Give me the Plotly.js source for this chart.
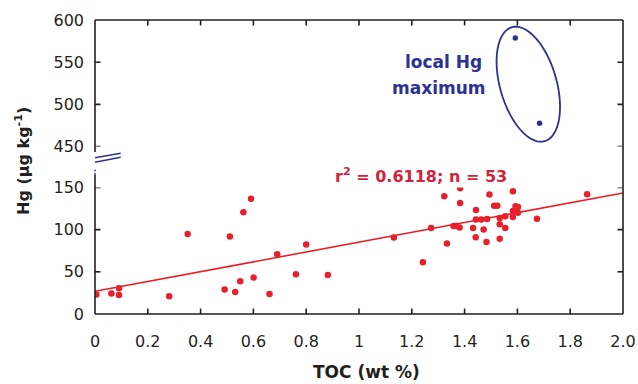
<!DOCTYPE html>
<html>
<head>
<meta charset="utf-8">
<script src="https://cdn.plot.ly/plotly-3.0.1.min.js"></script>
<style>html,body{margin:0;padding:0;background:#fff;}#chart{width:638px;height:384px;}</style>
</head>
<body>
<div id="chart"></div>
<script>
// ---- data ----
const tocLow = [0.005,0.062,0.091,0.091,0.281,0.351,0.491,0.511,0.531,0.550,0.562,0.591,0.601,0.661,0.690,0.761,0.800,
  0.882,1.132,1.242,1.273,1.323,1.333,1.358,1.367,1.381,1.383,1.383,1.432,1.443,1.443,1.442,1.463,1.472,1.485,1.483,
  1.494,1.512,1.524,1.533,1.533,1.533,1.554,1.554,1.583,1.583,1.583,1.593,1.602,1.602,1.674,1.864];
const hgLow = [23,24.2,30.4,22.5,21,94.8,28.9,91.7,26.1,38.7,120.5,136.7,43.1,23.7,70.7,47,82.2,
  46.2,90.5,61.3,101.9,139.5,83.4,104.3,104.3,102.4,148.9,131.5,101.9,123.2,112,90.9,112,100,112.5,85.3,
  141.5,128.4,128.4,113.7,106.3,89.3,115.8,101.9,145.4,122,114.9,127.6,126.8,120.1,113,141.8];
const tocMax = [1.592,1.684];
const hgMax = [578.7,477.6];
const fitIntercept = 26.9;
const fitSlope = 58.25;
const fitX = [0, 2.0];
const xTickVals = [0,0.2,0.4,0.6,0.8,1.0,1.2,1.4,1.6,1.8,2.0];
const xTickText = ["0","0.2","0.4","0.6","0.8","1","1.2","1.4","1.6","1.8","2.0"];
const yLowTicks = [0,50,100,150];
const yHighTicks = [450,500,550,600];

// ---- layout helpers (pixel -> paper) ----
const W = 638, H = 384, ML = 95, MR = 15, MT = 20, MB = 70;
const PW = W - ML - MR, PH = H - MT - MB;
const X = px => (px - ML) / PW;
const Y = py => (H - MB - py) / PH;

const ink = '#231f20', red = '#e8202c', navy = '#2e3192';
const tickFont = {family: 'DejaVu Sans', size: 16, color: ink};
const fitY = fitX.map(x => fitIntercept + fitSlope * x);

const traces = [
  {x: fitX, y: fitY, xaxis: 'x', yaxis: 'y', mode: 'lines', line: {color: '#ed1c24', width: 1.6}, hoverinfo: 'skip'},
  {x: tocLow, y: hgLow, xaxis: 'x', yaxis: 'y', mode: 'markers', marker: {color: red, size: 6.5}},
  {x: tocMax, y: hgMax, xaxis: 'x2', yaxis: 'y2', mode: 'markers', marker: {color: navy, size: 5.5}}
];

// ellipse around the local maximum (pixel geometry)
const ec = [528.3, 84.2], ea = 59.3, eb = 28.3, th = 16 * Math.PI / 180;
const u = [Math.sin(th), Math.cos(th)], v = [Math.cos(th), -Math.sin(th)];
let path = '';
for (let i = 0; i <= 72; i++) {
  const t = i / 72 * 2 * Math.PI;
  const px = ec[0] + ea * Math.cos(t) * u[0] + eb * Math.sin(t) * v[0];
  const py = ec[1] + ea * Math.cos(t) * u[1] + eb * Math.sin(t) * v[1];
  path += (i === 0 ? 'M' : 'L') + X(px).toFixed(5) + ',' + Y(py).toFixed(5);
}
path += 'Z';

const frame = {color: ink, width: 1.6};
const brk = {color: navy, width: 1.4};
const shapes = [
  {type: 'line', xref: 'paper', yref: 'paper', x0: 0, x1: 1, y0: 1, y1: 1, line: frame},
  {type: 'line', xref: 'paper', yref: 'paper', x0: 0, x1: 1, y0: 0, y1: 0, line: frame},
  {type: 'line', xref: 'paper', yref: 'paper', x0: 1, x1: 1, y0: 0, y1: 1, line: frame},
  {type: 'line', xref: 'paper', yref: 'paper', x0: 0, x1: 0, y0: 1, y1: Y(152), line: frame},
  {type: 'line', xref: 'paper', yref: 'paper', x0: 0, x1: 0, y0: 0, y1: Y(175), line: frame},
  {type: 'line', xref: 'paper', yref: 'paper', x0: 0, x1: X(120.7), y0: Y(157.7), y1: Y(153.3), line: brk},
  {type: 'line', xref: 'paper', yref: 'paper', x0: 0, x1: X(120.7), y0: Y(162.3), y1: Y(157.3), line: brk},
  {type: 'line', xref: 'paper', yref: 'paper', x0: 0, x1: 0, y0: Y(169.5), y1: Y(171.5), line: {color: navy, width: 1.4}},
  {type: 'line', xref: 'paper', yref: 'paper', x0: 0, x1: 0, y0: Y(173), y1: Y(175), line: {color: navy, width: 1.4}},
  {type: 'path', xref: 'paper', yref: 'paper', path: path, line: {color: navy, width: 1.8}}
];

// inward tick marks on all four sides, placed through the axes' own scales
const TL = 5.5, tickLine = {color: ink, width: 1.6};
xTickVals.slice(1, -1).forEach(v => {
  shapes.push({type: 'line', xref: 'x', yref: 'paper', x0: v, x1: v, y0: 0, y1: TL / PH, line: tickLine});
  shapes.push({type: 'line', xref: 'x', yref: 'paper', x0: v, x1: v, y0: 1, y1: 1 - TL / PH, line: tickLine});
});
yLowTicks.slice(1).forEach(v => {
  shapes.push({type: 'line', xref: 'paper', yref: 'y', x0: 0, x1: TL / PW, y0: v, y1: v, line: tickLine});
  shapes.push({type: 'line', xref: 'paper', yref: 'y', x0: 1, x1: 1 - TL / PW, y0: v, y1: v, line: tickLine});
});
yHighTicks.slice(0, -1).forEach(v => {
  shapes.push({type: 'line', xref: 'paper', yref: 'y2', x0: 0, x1: TL / PW, y0: v, y1: v, line: tickLine});
  shapes.push({type: 'line', xref: 'paper', yref: 'y2', x0: 1, x1: 1 - TL / PW, y0: v, y1: v, line: tickLine});
});

const annotations = [
  {xref: 'paper', yref: 'paper', x: X(421), y: Y(175), xanchor: 'center', yanchor: 'middle', showarrow: false,
   text: '<b>r<sup>2</sup> = 0.6118; n = 53</b>', font: {family: 'DejaVu Sans', size: 16, color: '#d2233c'}},
  {xref: 'paper', yref: 'paper', x: X(443.5), y: Y(62), xanchor: 'center', yanchor: 'middle', showarrow: false,
   text: '<b>local Hg</b>', font: {family: 'DejaVu Sans', size: 17, color: navy}},
  {xref: 'paper', yref: 'paper', x: X(438.5), y: Y(88), xanchor: 'center', yanchor: 'middle', showarrow: false,
   text: '<b>maximum</b>', font: {family: 'DejaVu Sans', size: 17, color: navy}},
  {xref: 'paper', yref: 'paper', x: X(366), y: Y(372), xanchor: 'center', yanchor: 'middle', showarrow: false,
   text: '<b>TOC (wt %)</b>', font: {family: 'DejaVu Sans', size: 17, color: ink}},
  {xref: 'paper', yref: 'paper', x: X(22), y: Y(161), xanchor: 'center', yanchor: 'middle', showarrow: false, textangle: -90,
   text: '<b>Hg (µg kg<sup>-1</sup>)</b>', font: {family: 'DejaVu Sans', size: 16, color: ink}}
];

// y scale: 0.844 px per unit in both parts of the broken axis
const pxPerUnit = 0.844;
const lowRange = [0, 150], highRange = [450, 600];
const lowFrac = (lowRange[1] - lowRange[0]) * pxPerUnit / PH;
const highFrac = (highRange[1] - highRange[0]) * pxPerUnit / PH;
const commonAx = {ticks: '', showgrid: false, zeroline: false, showline: false, tickfont: tickFont};

const layout = {
  width: W, height: H, margin: {l: ML, r: MR, t: MT, b: MB},
  paper_bgcolor: '#fff', plot_bgcolor: '#fff', showlegend: false,
  xaxis: Object.assign({}, commonAx, {range: [0, 2], domain: [0, 1], anchor: 'y', tickmode: 'array', tickvals: xTickVals, ticktext: xTickText, ticklabelstandoff: 16}),
  xaxis2: Object.assign({}, commonAx, {range: [0, 2], domain: [0, 1], anchor: 'y2', side: 'top', matches: 'x', tickmode: 'array', tickvals: xTickVals, showticklabels: false}),
  yaxis: Object.assign({}, commonAx, {range: lowRange, domain: [0, lowFrac], anchor: 'x', tickmode: 'array', tickvals: yLowTicks, ticklabelstandoff: 10}),
  yaxis2: Object.assign({}, commonAx, {range: highRange, domain: [1 - highFrac, 1], anchor: 'x2', tickmode: 'array', tickvals: yHighTicks, ticklabelstandoff: 10}),
  shapes: shapes, annotations: annotations
};

Plotly.newPlot('chart', traces, layout, {staticPlot: true, displayModeBar: false});
</script>
</body>
</html>
